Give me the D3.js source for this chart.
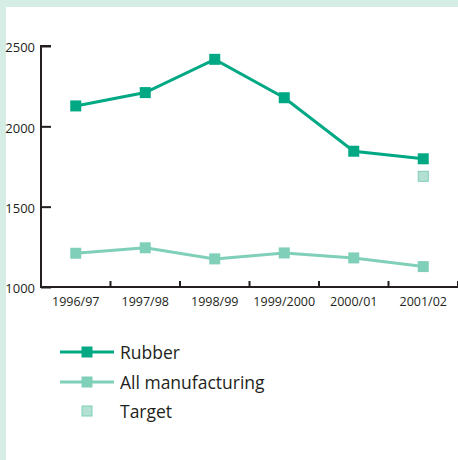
<!DOCTYPE html>
<html>
<head>
<meta charset="utf-8">
<style>
  body { margin: 0; background: #d6ede6; font-family: "Open Sans", sans-serif; }
  svg { display: block; }
</style>
</head>
<body>
<svg id="chart" width="458" height="460"></svg>
<script src="https://cdn.jsdelivr.net/npm/d3@7"></script>
<script>
// data
var years = ["1996/97", "1997/98", "1998/99", "1999/2000", "2000/01", "2001/02"];
var rubber = [2127, 2210, 2417, 2178, 1845, 1798];
var allManufacturing = [1210, 1244, 1175, 1212, 1181, 1127];
var target = [{year: "2001/02", value: 1689}];
var yTicks = [1000, 1500, 2000, 2500];

var dark = "#00a884", light = "#7fcfb9", pale = "#b3e0d2", ink = "#231f20";

var svg = d3.select("#chart");
svg.append("rect").attr("x", 6).attr("y", 7).attr("width", 452).attr("height", 453).attr("fill", "#fff");

var x = d3.scaleBand().domain(years).range([41, 458]);
var y = d3.scaleLinear().domain([1000, 2500]).range([287, 46]);

// y axis, ticks pointing inward
var yAxis = svg.append("g").attr("transform", "translate(41,0)")
  .call(d3.axisRight(y).tickValues(yTicks).tickSize(10).tickFormat(d3.format("d")));
yAxis.select(".domain").attr("d", "M10,46H0V287").attr("stroke", ink).attr("stroke-width", 2).attr("fill", "none");
yAxis.selectAll(".tick line").attr("stroke", ink).attr("stroke-width", 2);
yAxis.selectAll(".tick text").attr("x", -6).attr("dy", "0.45em").attr("text-anchor", "end")
  .attr("font-size", 13).attr("font-family", "Open Sans, sans-serif").attr("fill", ink);

// x axis with boundary ticks
var xAxis = svg.append("g");
xAxis.append("line").attr("x1", 40).attr("x2", 458).attr("y1", 287).attr("y2", 287)
  .attr("stroke", ink).attr("stroke-width", 2);
xAxis.selectAll("line.t").data(years).join("line")
  .attr("class", "t")
  .attr("x1", function (d) { return x(d) + x.bandwidth(); })
  .attr("x2", function (d) { return x(d) + x.bandwidth(); })
  .attr("y1", 287).attr("y2", 281)
  .attr("stroke", ink).attr("stroke-width", 2);
xAxis.selectAll("text").data(years).join("text")
  .attr("x", function (d) { return x(d) + x.bandwidth() / 2; })
  .attr("y", 306).attr("text-anchor", "middle")
  .attr("font-size", 12.5).attr("fill", ink)
  .text(function (d) { return d; });

var line = d3.line()
  .x(function (d, i) { return x(years[i]) + x.bandwidth() / 2; })
  .y(function (d) { return y(d); });

function series(values, color) {
  svg.append("path").datum(values).attr("d", line)
    .attr("fill", "none").attr("stroke", color).attr("stroke-width", 3);
  svg.append("g").selectAll("rect").data(values).join("rect")
    .attr("x", function (d, i) { return x(years[i]) + x.bandwidth() / 2 - 5.5; })
    .attr("y", function (d) { return y(d) - 5.5; })
    .attr("width", 11).attr("height", 11).attr("fill", color);
}
series(allManufacturing, light);
series(rubber, dark);

svg.selectAll("rect.target").data(target).join("rect")
  .attr("class", "target")
  .attr("x", function (d) { return x(d.year) + x.bandwidth() / 2 - 5; })
  .attr("y", function (d) { return y(d.value) - 5; })
  .attr("width", 10).attr("height", 10)
  .attr("fill", pale).attr("stroke", light).attr("stroke-width", 1);

// legend
var legend = [
  {label: "Rubber", color: dark, line: true, y: 352},
  {label: "All manufacturing", color: light, line: true, y: 382},
  {label: "Target", color: pale, line: false, y: 411}
];
var lg = svg.append("g").selectAll("g").data(legend).join("g")
  .attr("transform", function (d) { return "translate(0," + d.y + ")"; });
lg.filter(function (d) { return d.line; }).append("line")
  .attr("x1", 60).attr("x2", 114).attr("y1", 0).attr("y2", 0)
  .attr("stroke", function (d) { return d.color; }).attr("stroke-width", 3);
lg.append("rect")
  .attr("x", function (d) { return d.line ? 81.5 : 82; })
  .attr("y", function (d) { return d.line ? -5.5 : -5; })
  .attr("width", function (d) { return d.line ? 11 : 10; })
  .attr("height", function (d) { return d.line ? 11 : 10; })
  .attr("fill", function (d) { return d.color; })
  .attr("stroke", function (d) { return d.line ? "none" : light; });
lg.append("text").attr("x", 120).attr("y", 7)
  .attr("font-size", 17.5).attr("fill", ink)
  .text(function (d) { return d.label; });
</script>
</body>
</html>
